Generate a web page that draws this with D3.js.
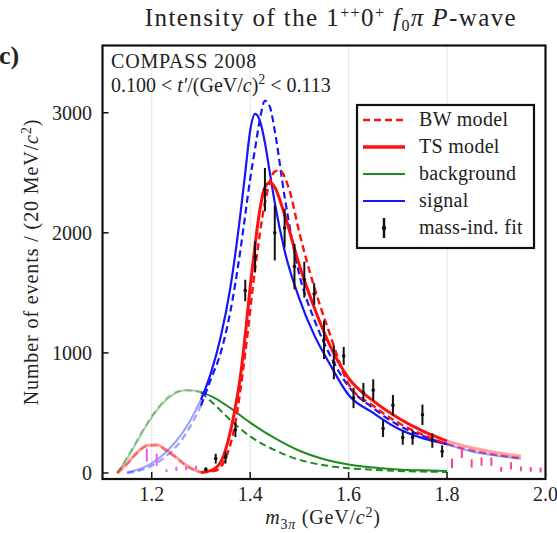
<!DOCTYPE html>
<html>
<head>
<meta charset="utf-8">
<script src="https://cdn.jsdelivr.net/npm/d3@7"></script>
<style>
  body { margin: 0; background: #fff; }
  svg text { font-family: "Liberation Serif", "DejaVu Serif", serif; fill: #222; }
</style>
</head>
<body>
<div id="chart"></div>
<script>
// ---- data ----
// TS model (red solid)
var tsX = [1.13,1.15,1.17,1.19,1.21,1.23,1.25,1.27,1.29,1.30,1.32,1.34,1.36,1.37,1.38,1.39,1.40,1.41,1.42,1.43,1.44,1.45,1.47,1.50,1.53,1.56,1.60,1.65,1.70,1.75,1.80,1.85,1.90,1.95];
var tsY = [0,80,170,230,235,190,130,65,20,5,20,90,350,550,800,1150,1550,1900,2200,2380,2420,2380,2150,1730,1380,1080,790,600,460,350,265,210,170,140];
// BW model (red dashed)
var bwX = [1.13,1.15,1.17,1.19,1.21,1.23,1.25,1.27,1.29,1.30,1.33,1.35,1.37,1.39,1.41,1.43,1.45,1.46,1.48,1.50,1.53,1.56,1.60,1.65,1.70,1.75,1.80,1.85,1.90,1.95];
var bwY = [0,75,165,225,230,185,125,60,18,5,20,120,420,1000,1700,2250,2510,2520,2350,2000,1550,1180,740,560,420,320,240,190,150,125];
// background (green), solid = TS fit, dashed = BW fit
var bgX = [1.13,1.15,1.17,1.19,1.21,1.23,1.25,1.27,1.29,1.30,1.33,1.36,1.40,1.45,1.50,1.55,1.60,1.65,1.70,1.75,1.80];
var bgTsY = [0,120,260,400,520,610,670,690,685,675,620,540,420,290,185,115,70,45,30,22,17];
var bgBwY = [0,130,270,410,530,620,675,690,680,670,560,440,305,190,110,65,40,27,17,12,8];
// signal (blue), solid = TS fit, dashed = BW fit
var sigX = [1.15,1.18,1.20,1.22,1.24,1.26,1.28,1.30,1.32,1.34,1.36,1.38,1.39,1.40,1.41,1.42,1.43,1.44,1.45,1.47,1.50,1.53,1.56,1.60,1.65,1.70,1.75,1.80,1.85,1.90,1.95];
var sigTsY = [5,40,80,140,220,320,450,610,830,1130,1550,2150,2500,2850,2990,2930,2750,2500,2250,1850,1450,1150,920,650,500,370,290,240,180,145,120];
var sigBwY = [0,25,60,110,180,270,400,560,780,1000,1350,1850,2150,2450,2700,2950,3100,3050,2850,2300,1650,1280,1000,720,540,400,310,240,185,150,120];
// mass-independent fit points (bin centres, intensity, error)
var pointX = [1.19,1.21,1.23,1.25,1.27,1.29,1.31,1.33,1.35,1.37,1.39,1.41,1.43,1.45,1.47,1.49,1.51,1.53,1.55,1.57,1.59,1.61,1.63,1.65,1.67,1.69,1.71,1.73,1.75,1.77,1.79,1.81,1.83,1.85,1.87,1.89,1.91,1.93,1.95,1.97,1.99];
var pointY = [150,110,20,35,40,45,30,120,130,360,1520,1800,2360,2000,2040,1720,1610,1490,1110,920,975,625,670,690,370,565,295,295,485,270,180,80,165,80,95,95,30,60,35,30,25];
var pointErr = [55,50,12,18,18,18,15,40,50,60,90,130,180,230,160,190,150,90,160,140,75,85,80,90,70,85,60,60,85,60,50,40,40,35,35,35,20,30,20,20,20];

var xTicks = [1.2,1.4,1.6,1.8,2.0];
var yTicks = [0,1000,2000,3000];
var fitLo = 1.3, fitHi = 1.8;

// ---- layout ----
var W = 557, H = 533;
var mLeft = 102.5, mRight = 545.5, mTop = 45.5, mBottom = 479;

var svg = d3.select("#chart").append("svg")
	.attr("width", W)
	.attr("height", H);

var x = d3.scaleLinear().domain([1.1, 2.0]).range([mLeft, mRight]);
var y = d3.scaleLinear().domain([-50, 3560]).range([mBottom, mTop]);

// vertical grid lines
svg.selectAll(".grid")
	.data(xTicks.slice(0, 4))
	.enter().append("line")
	.attr("x1", function(d) { return x(d); })
	.attr("x2", function(d) { return x(d); })
	.attr("y1", mTop)
	.attr("y2", mBottom)
	.style("stroke", "#e4e4e4")
	.style("stroke-width", 1);

svg.append("clipPath").attr("id", "clip")
	.append("rect").attr("x", mLeft).attr("y", mTop).attr("width", mRight - mLeft).attr("height", mBottom - mTop);
var plot = svg.append("g").attr("clip-path", "url(#clip)");

var line = d3.line()
	.x(function(d) { return x(d[0]); })
	.y(function(d) { return y(d[1]); })
	.curve(d3.curveMonotoneX);

// draw a curve: bold inside the fit range, faded outside
function drawCurve(xs, ys, color, width, dash) {
	var pts = xs.map(function(v, i) { return [v, ys[i]]; });
	var parts = [
		{ d: pts.filter(function(p) { return p[0] <= fitLo; }), o: 0.4 },
		{ d: pts.filter(function(p) { return p[0] >= fitLo && p[0] <= fitHi; }), o: 1 },
		{ d: pts.filter(function(p) { return p[0] >= fitHi; }), o: 0.4 }
	];
	parts.forEach(function(p) {
		if (p.d.length < 2) return;
		plot.append("path")
			.attr("d", line(p.d))
			.style("fill", "none")
			.style("stroke", color)
			.style("stroke-width", width)
			.style("stroke-dasharray", dash || null)
			.style("opacity", p.o);
	});
}

drawCurve(bgX, bgBwY, "#1f8a1f", 2, "7,4");
drawCurve(bgX, bgTsY, "#1f8a1f", 2);
drawCurve(sigX, sigBwY, "#1515ff", 2.2, "7,4");
drawCurve(sigX, sigTsY, "#1515ff", 2.2);
drawCurve(bwX, bwY, "#ff1010", 2.4, "7,4");
drawCurve(tsX, tsY, "#ff1010", 3);

// data points with error bars
var pts = pointX.map(function(v, i) { return { x: v, y: pointY[i], e: pointErr[i] }; });
function pointColor(d) {
	if (d.x < fitLo) return "#e25ef0";
	if (d.x > fitHi) return "#ff3d9e";
	return "#111";
}
var pg = plot.selectAll(".pt")
	.data(pts)
	.enter().append("g")
	.attr("class", "pt");
pg.append("line")
	.attr("x1", function(d) { return x(d.x); })
	.attr("x2", function(d) { return x(d.x); })
	.attr("y1", function(d) { return y(d.y - d.e); })
	.attr("y2", function(d) { return y(d.y + d.e); })
	.style("stroke", pointColor)
	.style("stroke-width", 2);
pg.filter(function(d) { return d.x > fitLo && d.x < fitHi; })
	.append("circle")
	.attr("cx", function(d) { return x(d.x); })
	.attr("cy", function(d) { return y(d.y); })
	.attr("r", 1.8)
	.style("fill", "#111");

// frame
svg.append("rect")
	.attr("x", mLeft).attr("y", mTop)
	.attr("width", mRight - mLeft).attr("height", mBottom - mTop)
	.style("fill", "none")
	.style("stroke", "#111")
	.style("stroke-width", 2.2);

// ticks (inward) and labels
svg.selectAll(".xt")
	.data(xTicks.slice(0, 4))
	.enter().append("line")
	.attr("x1", function(d) { return x(d); })
	.attr("x2", function(d) { return x(d); })
	.attr("y1", mBottom)
	.attr("y2", mBottom - 7)
	.style("stroke", "#111").style("stroke-width", 1.5);
svg.selectAll(".xl")
	.data(xTicks)
	.enter().append("text")
	.attr("x", function(d) { return x(d); })
	.attr("y", 501)
	.attr("text-anchor", "middle")
	.style("font-size", "20px")
	.text(function(d) { return d3.format(".1f")(d); });

svg.selectAll(".yt")
	.data(yTicks)
	.enter().append("line")
	.attr("x1", mLeft)
	.attr("x2", mLeft + 6)
	.attr("y1", function(d) { return y(d); })
	.attr("y2", function(d) { return y(d); })
	.style("stroke", "#111").style("stroke-width", 1.5);
svg.selectAll(".yl")
	.data(yTicks)
	.enter().append("text")
	.attr("x", 92)
	.attr("y", function(d) { return y(d) + 7; })
	.attr("text-anchor", "end")
	.style("font-size", "20px")
	.text(function(d) { return d; });

// axis titles
var xl = svg.append("text")
	.attr("x", 323).attr("y", 524)
	.attr("text-anchor", "middle")
	.style("font-size", "20px")
	.style("letter-spacing", "0.8px");
xl.append("tspan").style("font-style", "italic").text("m");
xl.append("tspan").attr("dy", 5).style("font-size", "14px").text("3");
xl.append("tspan").style("font-size", "14px").style("font-style", "italic").text("π");
xl.append("tspan").attr("dy", -5).text(" (GeV/");
xl.append("tspan").style("font-style", "italic").text("c");
xl.append("tspan").attr("dy", -7).style("font-size", "14px").text("2");
xl.append("tspan").attr("dy", 7).text(")");

var yl = svg.append("text")
	.attr("transform", "translate(38,262) rotate(-90)")
	.attr("text-anchor", "middle")
	.style("font-size", "20px")
	.style("letter-spacing", "0.9px");
yl.append("tspan").text("Number of events / (20 MeV/");
yl.append("tspan").style("font-style", "italic").text("c");
yl.append("tspan").attr("dy", -7).style("font-size", "14px").text("2");
yl.append("tspan").attr("dy", 7).text(")");

// title
var t = svg.append("text")
	.attr("x", 331).attr("y", 26)
	.attr("text-anchor", "middle")
	.style("font-size", "25px")
	.style("letter-spacing", "1.4px");
t.append("tspan").text("Intensity of the 1");
t.append("tspan").attr("dy", -8).style("font-size", "16px").text("++");
t.append("tspan").attr("dy", 8).text("0");
t.append("tspan").attr("dy", -8).style("font-size", "16px").text("+");
t.append("tspan").attr("dy", 8).text(" ");
t.append("tspan").style("font-style", "italic").text("f");
t.append("tspan").attr("dy", 5).style("font-size", "16px").text("0");
t.append("tspan").attr("dy", -5).style("font-style", "italic").text("π  P");
t.append("tspan").text("-wave");

svg.append("text")
	.attr("x", -1).attr("y", 64)
	.style("font-size", "26px")
	.style("font-weight", "bold")
	.text("c)");

// info text
svg.append("text")
	.attr("x", 111).attr("y", 68)
	.style("font-size", "20px")
	.style("letter-spacing", "0.8px")
	.text("COMPASS 2008");
var info = svg.append("text")
	.attr("x", 111).attr("y", 92)
	.style("font-size", "20px");
info.append("tspan").text("0.100 < ");
info.append("tspan").style("font-style", "italic").text("t′");
info.append("tspan").text("/(GeV/");
info.append("tspan").style("font-style", "italic").text("c");
info.append("tspan").text(")");
info.append("tspan").attr("dy", -8).style("font-size", "14px").text("2");
info.append("tspan").attr("dy", 8).text(" < 0.113");

// legend
var lg = svg.append("g").attr("transform", "translate(357,105)");
lg.append("rect")
	.attr("width", 177).attr("height", 143)
	.style("fill", "#fff")
	.style("stroke", "#111")
	.style("stroke-width", 2.2);
var legendItems = [
	{ label: "BW model", color: "#ff1010", w: 2.4, dash: "7,4" },
	{ label: "TS model", color: "#ff1010", w: 3.5 },
	{ label: "background", color: "#1f8a1f", w: 2 },
	{ label: "signal", color: "#1515ff", w: 2 },
	{ label: "mass-ind. fit", bar: true }
];
legendItems.forEach(function(d, i) {
	var yy = 15 + i * 27;
	if (d.bar) {
		lg.append("line")
			.attr("x1", 27).attr("x2", 27)
			.attr("y1", yy - 10).attr("y2", yy + 10)
			.style("stroke", "#111").style("stroke-width", 2.5);
		lg.append("circle").attr("cx", 27).attr("cy", yy).attr("r", 2.2).style("fill", "#111");
	} else {
		lg.append("line")
			.attr("x1", 6).attr("x2", 48)
			.attr("y1", yy).attr("y2", yy)
			.style("stroke", d.color)
			.style("stroke-width", d.w)
			.style("stroke-dasharray", d.dash || null);
	}
	lg.append("text")
		.attr("x", 62).attr("y", yy + 6)
		.style("font-size", "20px")
		.style("letter-spacing", "0.3px")
		.text(d.label);
});
</script>
</body>
</html>
